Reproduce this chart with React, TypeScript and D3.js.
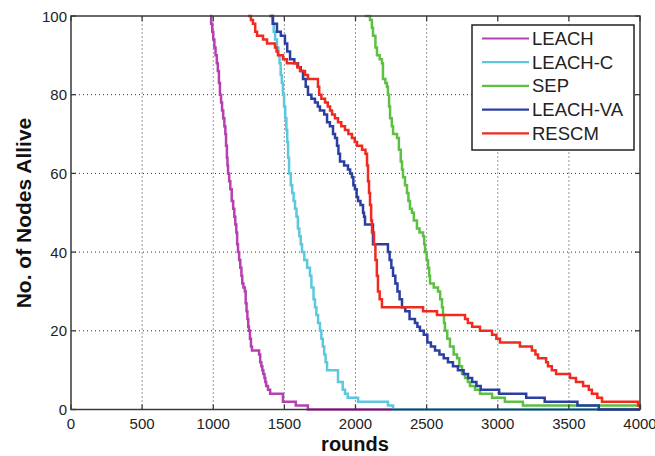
import React from "react";
import * as d3 from "d3";

const W = 655;
const H = 456;

const xTicks = [0, 500, 1000, 1500, 2000, 2500, 3000, 3500, 4000];
const yTicks = [0, 20, 40, 60, 80, 100];

const seriesNames = ["LEACH", "LEACH-C", "SEP", "LEACH-VA", "RESCM"];
const seriesColors = ["#b640b0", "#5cc8de", "#5ec043", "#2b3fa3", "#f02a1e"];

const leach: [number, number][] = [
  [977, 100], [985, 98], [993, 96], [1000, 94], [1008, 92], [1016, 90], [1025, 88], [1032, 86],
  [1040, 83], [1047, 80], [1055, 78], [1062, 76], [1070, 74], [1078, 72], [1085, 70], [1090, 67],
  [1096, 64], [1100, 62], [1104, 60], [1112, 58], [1120, 56], [1130, 53], [1140, 51], [1148, 49],
  [1155, 47], [1162, 45], [1168, 42], [1174, 40], [1182, 38], [1190, 36], [1198, 34], [1204, 32],
  [1212, 31], [1222, 30], [1228, 27], [1234, 25], [1240, 23], [1246, 21], [1251, 20], [1258, 18],
  [1265, 16], [1272, 15], [1322, 14], [1330, 12], [1338, 11], [1345, 10], [1352, 9], [1360, 8],
  [1366, 7], [1372, 6], [1385, 5], [1400, 4], [1490, 2], [1580, 1], [1665, 0], [4000, 0],
];

const leachC: [number, number][] = [
  [1405, 100], [1415, 98], [1425, 96], [1435, 94], [1448, 92], [1458, 90], [1466, 88], [1474, 85],
  [1482, 83], [1490, 80], [1498, 77], [1506, 74], [1514, 71], [1520, 68], [1526, 64], [1533, 60],
  [1545, 57], [1555, 55], [1565, 53], [1575, 51], [1585, 49], [1595, 46], [1605, 44], [1615, 42],
  [1624, 40], [1640, 38], [1660, 36], [1680, 34], [1690, 31], [1705, 28], [1715, 26], [1725, 24],
  [1737, 22], [1750, 20], [1760, 18], [1770, 16], [1780, 14], [1790, 12], [1800, 10], [1877, 7],
  [1910, 5], [1926, 4], [1945, 3], [2018, 2], [2228, 1], [2264, 0], [4000, 0],
];

const sep: [number, number][] = [
  [2065, 100], [2102, 99], [2115, 97], [2123, 95], [2140, 92], [2151, 90], [2170, 89], [2186, 88],
  [2193, 84], [2210, 83], [2221, 82], [2228, 80], [2236, 77], [2243, 74], [2255, 72], [2264, 70],
  [2292, 69], [2305, 66], [2318, 63], [2327, 61], [2334, 59], [2348, 57], [2362, 55], [2372, 53],
  [2383, 51], [2397, 50], [2410, 48], [2432, 46], [2450, 45], [2475, 44], [2483, 42], [2489, 40],
  [2500, 38], [2510, 36], [2518, 34], [2524, 32], [2550, 31], [2580, 30], [2595, 28], [2608, 26],
  [2615, 24], [2622, 22], [2629, 20], [2645, 18], [2664, 16], [2690, 14], [2714, 13], [2730, 11],
  [2749, 9], [2770, 8], [2790, 7], [2805, 6], [2840, 5], [2875, 4], [2960, 3], [3050, 2],
  [3177, 1], [4000, 1],
];

const leachVA: [number, number][] = [
  [1395, 100], [1420, 98], [1448, 96], [1475, 95], [1504, 93], [1520, 91], [1540, 89], [1570, 88],
  [1596, 87], [1615, 86], [1631, 84], [1650, 82], [1666, 80], [1690, 79], [1715, 78], [1735, 77],
  [1750, 76], [1780, 75], [1800, 73], [1820, 72], [1842, 70], [1856, 69], [1870, 67], [1880, 65],
  [1891, 63], [1920, 62], [1947, 61], [1962, 60], [1975, 59], [1985, 57], [1996, 56], [2008, 54],
  [2018, 53], [2035, 52], [2053, 50], [2060, 49], [2067, 47], [2123, 42], [2228, 40], [2240, 38],
  [2252, 36], [2264, 34], [2280, 32], [2295, 30], [2310, 28], [2327, 26], [2350, 25], [2380, 23],
  [2418, 22], [2435, 21], [2453, 20], [2480, 19], [2505, 17], [2530, 16], [2559, 15], [2590, 14],
  [2620, 13], [2650, 12], [2685, 11], [2720, 10], [2760, 9], [2791, 8], [2820, 7], [2850, 6],
  [2880, 5], [3010, 4], [3200, 3], [3330, 2], [3560, 1], [3710, 0], [4000, 0],
];

const rescm: [number, number][] = [
  [1244, 100], [1265, 99], [1279, 98], [1295, 96], [1308, 95], [1350, 94], [1378, 93], [1434, 92],
  [1445, 91], [1455, 90], [1490, 89], [1518, 88], [1560, 88], [1590, 87], [1610, 86], [1645, 85],
  [1666, 84], [1736, 82], [1745, 80], [1760, 79], [1786, 78], [1805, 77], [1821, 76], [1835, 75],
  [1855, 74], [1877, 73], [1900, 72], [1926, 71], [1950, 70], [1975, 69], [1995, 68], [2011, 67],
  [2046, 66], [2070, 65], [2081, 62], [2088, 58], [2095, 55], [2102, 52], [2110, 48], [2116, 45],
  [2130, 42], [2140, 38], [2150, 34], [2158, 30], [2170, 28], [2186, 26], [2475, 25], [2573, 24],
  [2770, 23], [2790, 22], [2820, 21], [2875, 20], [2960, 19], [2990, 18], [3016, 17], [3156, 16],
  [3240, 15], [3265, 14], [3283, 13], [3340, 12], [3353, 11], [3380, 10], [3410, 9], [3508, 8],
  [3550, 7], [3600, 6], [3640, 5], [3662, 4], [3700, 3], [3733, 2], [3986, 1], [4000, 0],
];

const seriesData = [leach, leachC, sep, leachVA, rescm];

export default function App() {
  const x = d3.scaleLinear().domain([0, 4000]).range([71, 640]);
  const y = d3.scaleLinear().domain([0, 100]).range([409.5, 16]);
  const line = d3
    .line<[number, number]>()
    .x((d) => x(d[0]))
    .y((d) => y(d[1]))
    .curve(d3.curveStepAfter);

  const [x0, x1] = x.range();
  const [y0, y1] = y.range();
  const font = "'Liberation Sans', Arial, Helvetica, sans-serif";
  const tickLen = 5;

  const legX = 472;
  const legY = 25;
  const legW = 162;
  const legH = 125;

  return (
    <svg
      width={W}
      height={H}
      style={{ position: "absolute", left: 0, top: 0, background: "#fff" }}
      fontFamily={font}
    >
      <rect x={0} y={0} width={W} height={H} fill="#fff" />
      {/* grid */}
      <g stroke="#333" strokeWidth={1} strokeDasharray="1 3">
        {xTicks.slice(1, -1).map((t) => (
          <line key={"gx" + t} x1={x(t)} x2={x(t)} y1={y0} y2={y1} />
        ))}
        {yTicks.slice(1, -1).map((t) => (
          <line key={"gy" + t} x1={x0} x2={x1} y1={y(t)} y2={y(t)} />
        ))}
      </g>
      {/* series */}
      <g fill="none" strokeWidth={2.5} strokeLinejoin="miter">
        {seriesData.map((d, i) => (
          <path key={seriesNames[i]} d={line(d) || ""} stroke={seriesColors[i]} />
        ))}
      </g>
      {/* frame */}
      <rect x={x0} y={y1} width={x1 - x0} height={y0 - y1} fill="none" stroke="#3a3a3a" strokeWidth={1.5} />
      <g stroke="#3a3a3a" strokeWidth={1.3}>
        {xTicks.map((t) => (
          <g key={"tx" + t}>
            <line x1={x(t)} x2={x(t)} y1={y0} y2={y0 - tickLen} />
            <line x1={x(t)} x2={x(t)} y1={y1} y2={y1 + tickLen} />
          </g>
        ))}
        {yTicks.map((t) => (
          <g key={"ty" + t}>
            <line x1={x0} x2={x0 + tickLen} y1={y(t)} y2={y(t)} />
            <line x1={x1} x2={x1 - tickLen} y1={y(t)} y2={y(t)} />
          </g>
        ))}
      </g>
      {/* tick labels */}
      <g fontSize={15} fill="#222">
        {xTicks.map((t) => (
          <text key={"lx" + t} x={x(t)} y={428.5} textAnchor="middle">
            {t}
          </text>
        ))}
        {yTicks.map((t) => (
          <text key={"ly" + t} x={67} y={y(t) + 5.5} textAnchor="end">
            {t}
          </text>
        ))}
      </g>
      {/* axis titles */}
      <text x={355} y={451} textAnchor="middle" fontSize={20} fontWeight="bold" fill="#111">
        rounds
      </text>
      <text
        transform={`translate(31, 213) rotate(-90)`}
        textAnchor="middle"
        fontSize={21}
        fontWeight="bold"
        fill="#111"
      >
        No. of Nodes Allive
      </text>
      {/* legend */}
      <rect x={legX} y={legY} width={legW} height={legH} fill="#fff" stroke="#222" strokeWidth={1.5} />
      {seriesNames.map((name, i) => {
        const cy = 38.5 + i * 23.7;
        return (
          <g key={"leg" + name}>
            <line x1={482} x2={529} y1={cy} y2={cy} stroke={seriesColors[i]} strokeWidth={2.2} />
            <text x={532} y={cy + 6.5} fontSize={18.5} fill="#222">
              {name}
            </text>
          </g>
        );
      })}
    </svg>
  );
}
